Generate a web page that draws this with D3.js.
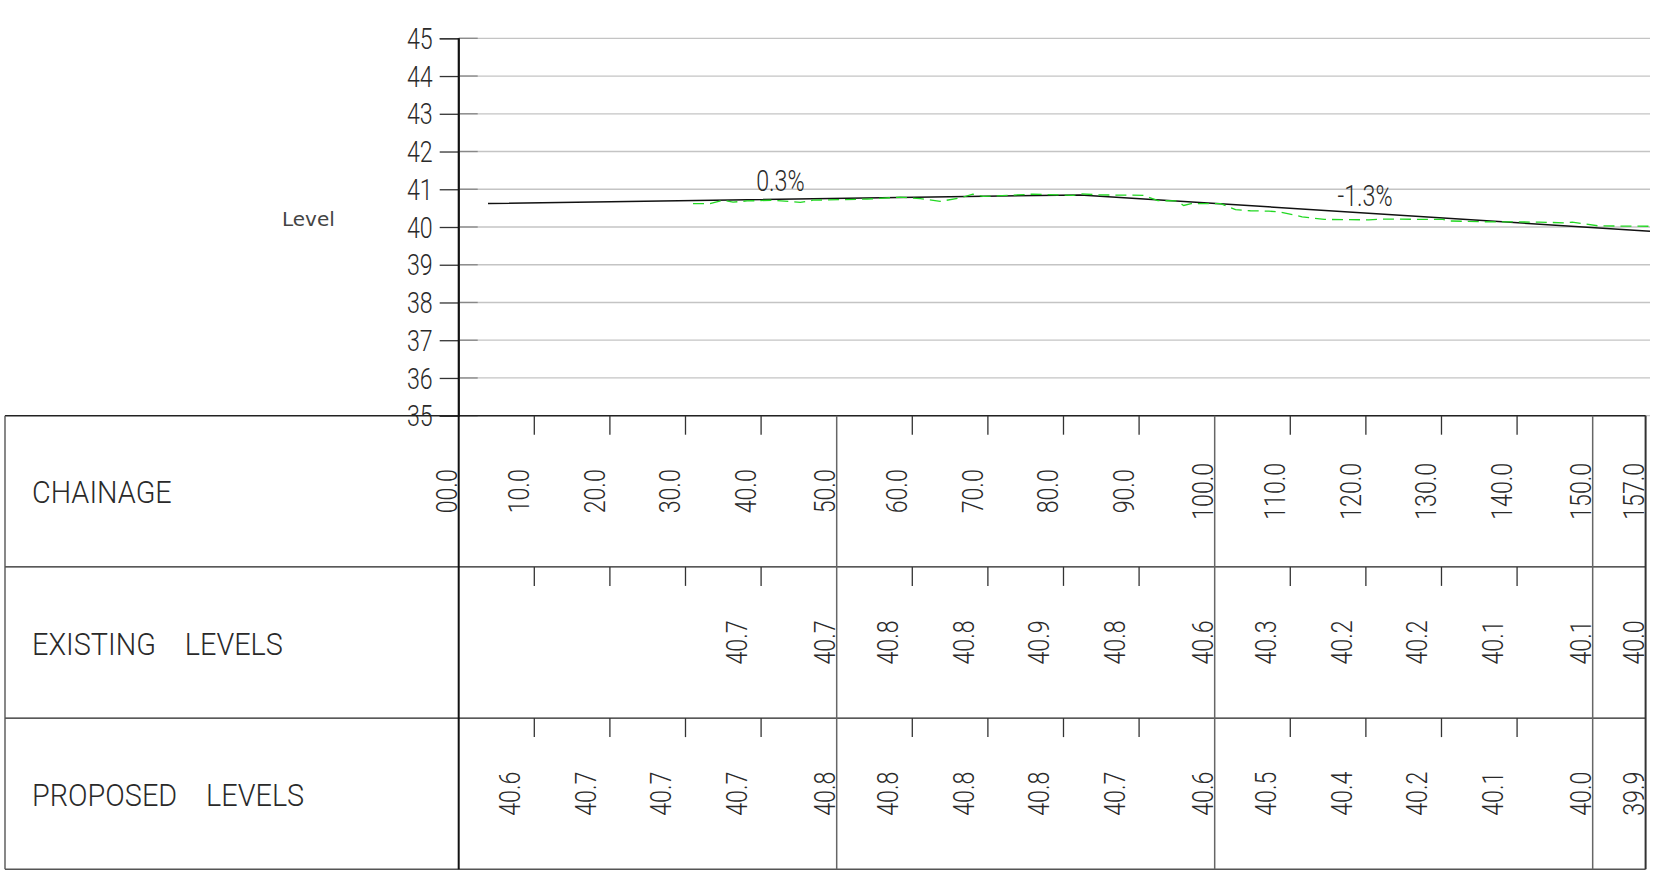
<!DOCTYPE html>
<html>
<head>
<meta charset="utf-8">
<script src="https://cdn.jsdelivr.net/npm/d3@7"></script>
<style>
  html, body { margin: 0; padding: 0; background: #fff; }
  .cad { font-family: Roboto, "DejaVu Sans Condensed", sans-serif; font-weight: 300; fill: #2a2a2a; white-space: pre; }
</style>
</head>
<body>
<div class="chart"></div>
<script>
// Data
const levelTicks = [35, 36, 37, 38, 39, 40, 41, 42, 43, 44, 45];
const chainages = [0, 10, 20, 30, 40, 50, 60, 70, 80, 90, 100, 110, 120, 130, 140, 150, 157];
const chainageLabels = ["00.0", "10.0", "20.0", "30.0", "40.0", "50.0", "60.0", "70.0", "80.0", "90.0",
    "100.0", "110.0", "120.0", "130.0", "140.0", "150.0", "157.0"];
const majorChainages = [0, 50, 100, 150, 157];

const existingChainages = [40, 50, 60, 70, 80, 90, 100, 110, 120, 130, 140, 150, 157];
const existingLevels = [40.7, 40.7, 40.8, 40.8, 40.9, 40.8, 40.6, 40.3, 40.2, 40.2, 40.1, 40.1, 40.0];

const proposedChainages = [10, 20, 30, 40, 50, 60, 70, 80, 90, 100, 110, 120, 130, 140, 150, 157];
const proposedLevels = [40.6, 40.7, 40.7, 40.7, 40.8, 40.8, 40.8, 40.8, 40.7, 40.6, 40.5, 40.4, 40.2, 40.1, 40.0, 39.9];

// design grade line (black)
const designChainage = [0, 80, 157];
const designLevel = [40.62, 40.85, 39.89];

// surveyed ground (green dashed)
const surveyChainage = [27.7, 30, 31.8, 33.1, 35, 38.5, 42.2, 43.9, 51.2, 55.7, 58.4, 61.1, 63.8, 65.5, 66.9,
    73.6, 79.1, 80, 82.7, 88.6, 90.5, 93, 94, 95, 99, 101, 103, 105.5, 107, 110, 113, 119, 121, 129, 130,
    134, 142, 145.5, 146.5, 150, 157];
const surveyLevel = [40.62, 40.62, 40.71, 40.66, 40.69, 40.71, 40.65, 40.71, 40.74, 40.79, 40.75, 40.68, 40.77, 40.87, 40.81,
    40.87, 40.84, 40.88, 40.85, 40.84, 40.70, 40.69, 40.57, 40.62, 40.62, 40.46, 40.43, 40.42, 40.40, 40.27, 40.20, 40.19, 40.21, 40.20, 40.16,
    40.14, 40.13, 40.11, 40.13, 40.03, 40.02];

const gradeLabels = ["0.3%", "-1.3%"];
const gradeChainage = [39.5, 118.5];
const gradeLevel = [40.96, 40.55];

const rowNames = ["CHAINAGE", "EXISTING  LEVELS", "PROPOSED  LEVELS"];

// Layout
const width = 1654, height = 876;
const tableLeft = 5, tableTop = 415.7, rowH = 151.2;
const tickLen = 19;
const numSize = 29, numSx = 0.8;   // tall narrow CAD-like digits
const nameSize = 31, nameSx = 0.93;

const svg = d3.select(".chart").append("svg")
    .attr("width", width)
    .attr("height", height);

// scales
const xTable = d3.scaleLinear().domain([0, 157]).range([458.7, 1645.6]);
const xPlot = d3.scaleLinear().domain([0, 157]).range([488, 1650]);
const yScale = d3.scaleLinear().domain([35, 45]).range([415.7, 38.3]);

// text helper, squeezed horizontally
function cadText(g, x, y, txt, size, anchor, rot, sx) {
    return g.append("text")
        .attr("class", "cad")
        .attr("font-size", size)
        .attr("text-anchor", anchor)
        .attr("transform", `translate(${x},${y}) rotate(${rot}) scale(${sx},1)`)
        .text(txt);
}

// gridlines
svg.append("g")
    .selectAll("line")
    .data(levelTicks)
    .enter()
    .append("line")
    .attr("x1", xTable(0))
    .attr("x2", 1650)
    .attr("y1", d => yScale(d))
    .attr("y2", d => yScale(d))
    .attr("stroke", "#c4c4c4")
    .attr("stroke-width", 1.3);

// short inner ticks
svg.append("g")
    .selectAll("line")
    .data(levelTicks)
    .enter()
    .append("line")
    .attr("x1", xTable(0))
    .attr("x2", xTable(0) + tickLen)
    .attr("y1", d => yScale(d))
    .attr("y2", d => yScale(d))
    .attr("stroke", "#888")
    .attr("stroke-width", 1.3);

// y axis
const yAxis = d3.axisLeft(yScale)
    .tickValues(levelTicks)
    .tickSize(tickLen)
    .tickFormat(d3.format("d"));

const gy = svg.append("g")
    .attr("transform", `translate(${xTable(0)},0)`)
    .call(yAxis);
gy.select(".domain").attr("stroke", "#555").attr("stroke-width", 1.4);
gy.selectAll(".tick line").attr("stroke", "#333").attr("stroke-width", 1.3);
gy.selectAll(".tick text")
    .attr("class", "cad")
    .attr("font-size", numSize)
    .attr("x", null)
    .attr("dy", "0.35em")
    .attr("fill", "#2a2a2a")
    .attr("transform", `translate(-26,0) scale(${numSx},1)`);

svg.append("text")
    .attr("x", 282)
    .attr("y", 226)
    .attr("font-family", "DejaVu Sans, sans-serif")
    .attr("font-size", 20)
    .attr("fill", "#444")
    .text("Level");

// design line
const line = d3.line()
    .x(d => xPlot(d[0]))
    .y(d => yScale(d[1]));

svg.append("path")
    .datum(designChainage.map((c, i) => [c, designLevel[i]]))
    .attr("d", line)
    .attr("fill", "none")
    .attr("stroke", "#111")
    .attr("stroke-width", 1.5);

svg.append("path")
    .datum(surveyChainage.map((c, i) => [c, surveyLevel[i]]))
    .attr("d", line)
    .attr("fill", "none")
    .attr("stroke", "#22d822")
    .attr("stroke-width", 1.3)
    .attr("stroke-dasharray", "11,6");

const gGrade = svg.append("g");
gradeLabels.forEach((t, i) => {
    cadText(gGrade, xPlot(gradeChainage[i]), yScale(gradeLevel[i]), t, numSize, "middle", 0, numSx);
});

// table
const tableBottom = tableTop + 3 * rowH;
const rows = svg.append("g");

rowNames.forEach((name, r) => {
    const top = tableTop + r * rowH;
    rows.append("line")
        .attr("x1", tableLeft).attr("x2", xTable(157))
        .attr("y1", top).attr("y2", top)
        .attr("stroke", "#222").attr("stroke-width", 1.4);
    cadText(rows, 32, top + rowH / 2 + 12, name, nameSize, "start", 0, nameSx)
        .attr("word-spacing", 8);
    // minor ticks
    rows.append("g")
        .selectAll("line")
        .data(chainages.filter(c => !majorChainages.includes(c)))
        .enter()
        .append("line")
        .attr("x1", d => xTable(d)).attr("x2", d => xTable(d))
        .attr("y1", top).attr("y2", top + tickLen)
        .attr("stroke", "#333").attr("stroke-width", 1.3);
});
rows.append("line")
    .attr("x1", tableLeft).attr("x2", xTable(157))
    .attr("y1", tableBottom).attr("y2", tableBottom)
    .attr("stroke", "#555").attr("stroke-width", 1.4);
rows.append("line")
    .attr("x1", tableLeft).attr("x2", tableLeft)
    .attr("y1", tableTop).attr("y2", tableBottom)
    .attr("stroke", "#555").attr("stroke-width", 1.4);

// major verticals
rows.append("g")
    .selectAll("line")
    .data(majorChainages)
    .enter()
    .append("line")
    .attr("x1", d => xTable(d)).attr("x2", d => xTable(d))
    .attr("y1", d => d === 0 ? yScale(45) : tableTop)
    .attr("y2", tableBottom)
    .attr("stroke", d => d === 0 ? "#111" : (d === 157 ? "#333" : "#666"))
    .attr("stroke-width", d => d === 0 ? 2 : (d === 157 ? 2 : 1.5));

// rotated cell labels
function cellLabels(cs, labels, row, minorGap) {
    const yc = tableTop + row * rowH + rowH / 2;
    labels.forEach((t, i) => {
        const gap = majorChainages.includes(cs[i]) ? 2 : minorGap;
        cadText(rows, xTable(cs[i]) - gap, yc, t, numSize, "middle", -90, numSx);
    });
}
cellLabels(chainages, chainageLabels, 0, 5);
cellLabels(existingChainages, existingLevels.map(d => d.toFixed(1)), 1, 14);
cellLabels(proposedChainages, proposedLevels.map(d => d.toFixed(1)), 2, 14);
</script>
</body>
</html>
